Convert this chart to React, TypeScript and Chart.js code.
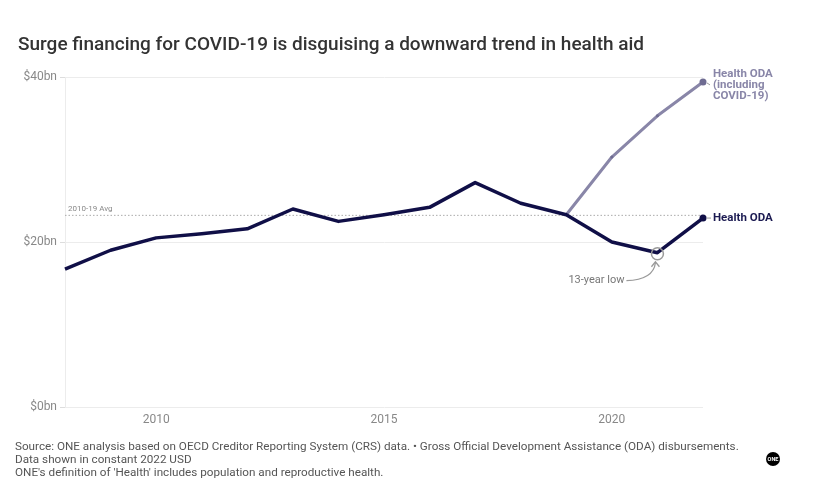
import { useEffect, useRef } from "react";
import { Chart, registerables } from "chart.js";
Chart.register(...registerables);

const YEARS = [2008, 2009, 2010, 2011, 2012, 2013, 2014, 2015, 2016, 2017, 2018, 2019, 2020, 2021, 2022];
const HEALTH_ODA = [16.7, 19.0, 20.5, 21.0, 21.6, 24.0, 22.5, 23.3, 24.2, 27.2, 24.7, 23.3, 20.0, 18.7, 22.9];
const HEALTH_ODA_COVID: (number | null)[] = [null, null, null, null, null, null, null, null, null, null, null, 23.3, 30.3, 35.3, 39.4];
const Y_TICKS = [0, 20, 40];
const X_TICKS = [2010, 2015, 2020];
const AVG_YEARS = [2010, 2019];
const LOW_YEAR = 2021;

const TITLE = "Surge financing for COVID-19 is disguising a downward trend in health aid";
const FOOTER = [
  "Source: ONE analysis based on OECD Creditor Reporting System (CRS) data. \u2022 Gross Official Development Assistance (ODA) disbursements.",
  "Data shown in constant 2022 USD",
  "ONE's definition of 'Health' includes population and reproductive health.",
];

const NAVY = "#100f47";
const LAVENDER = "#8986a8";
const FONT = "Roboto, 'Noto Sans', sans-serif";

export default function App() {
  const ref = useRef<HTMLCanvasElement | null>(null);
  useEffect(() => {
    if (!ref.current) return;
    const avgVals = YEARS.map((y, i) => (y >= AVG_YEARS[0] && y <= AVG_YEARS[1] ? HEALTH_ODA[i] : null)).filter((v) => v !== null) as number[];
    const avg = avgVals.reduce((a, b) => a + b, 0) / avgVals.length;

    const decor = {
      id: "decor",
      beforeDatasetsDraw(chart: any) {
        const { ctx, chartArea, scales } = chart;
        const y = scales.y.getPixelForValue(avg);
        ctx.save();
        ctx.strokeStyle = "#aaaaaa";
        ctx.lineWidth = 1;
        ctx.setLineDash([1.5, 2]);
        ctx.beginPath();
        ctx.moveTo(chartArea.left, y);
        ctx.lineTo(chartArea.right, y);
        ctx.stroke();
        ctx.setLineDash([]);
        ctx.fillStyle = "#888";
        ctx.font = `8px ${FONT}`;
        ctx.textBaseline = "bottom";
        ctx.textAlign = "left";
        ctx.fillText("2010-19 Avg", chartArea.left + 3, y - 2);
        ctx.restore();
      },
      afterDraw(chart: any) {
        const { ctx, scales } = chart;
        ctx.save();
        // title
        ctx.fillStyle = "#333";
        ctx.font = `500 19px ${FONT}`;
        ctx.textBaseline = "middle";
        ctx.textAlign = "left";
        ctx.fillText(TITLE, 18, 45);
        // footer
        ctx.fillStyle = "#555";
        ctx.font = `11.7px ${FONT}`;
        FOOTER.forEach((t, i) => ctx.fillText(t, 15, 447 + i * 13));
        // logo
        ctx.fillStyle = "#000";
        ctx.beginPath();
        ctx.arc(773, 459, 7, 0, Math.PI * 2);
        ctx.fill();
        ctx.fillStyle = "#fff";
        ctx.font = `bold 5.5px ${FONT}`;
        ctx.textAlign = "center";
        ctx.fillText("ONE", 773, 459.5);
        // series labels
        const last = YEARS.length - 1;
        const xe = scales.x.getPixelForValue(YEARS[last]);
        const yc = scales.y.getPixelForValue(HEALTH_ODA_COVID[last] as number);
        const yh = scales.y.getPixelForValue(HEALTH_ODA[last]);
        ctx.textAlign = "left";
        ctx.font = `bold 11.5px ${FONT}`;
        ctx.fillStyle = LAVENDER;
        ["Health ODA", "(including", "COVID-19)"].forEach((t, i) => ctx.fillText(t, xe + 10, yc - 8 + i * 11));
        ctx.fillStyle = "#1c1b52";
        ctx.fillText("Health ODA", xe + 10, yh);
        ctx.strokeStyle = "#999";
        ctx.lineWidth = 1;
        ctx.beginPath();
        ctx.moveTo(xe + 4, yh);
        ctx.lineTo(xe + 8, yh);
        ctx.moveTo(xe + 4, yc + 1);
        ctx.lineTo(xe + 7, yc + 3);
        ctx.stroke();
        // low circle
        const li = YEARS.indexOf(LOW_YEAR);
        const lx = scales.x.getPixelForValue(LOW_YEAR);
        const ly = scales.y.getPixelForValue(HEALTH_ODA[li]);
        ctx.strokeStyle = "#9a9a9a";
        ctx.lineWidth = 1.5;
        ctx.beginPath();
        ctx.arc(lx, ly + 1, 6, 0, Math.PI * 2);
        ctx.stroke();
        // label + arrow
        ctx.fillStyle = "#777";
        ctx.font = `11px ${FONT}`;
        ctx.textAlign = "right";
        ctx.fillText("13-year low", lx - 33, ly + 28);
        ctx.strokeStyle = "#9a9a9a";
        ctx.lineWidth = 1.3;
        ctx.beginPath();
        ctx.moveTo(lx - 31, ly + 28);
        ctx.quadraticCurveTo(lx - 4, ly + 27, lx - 2, ly + 10);
        ctx.stroke();
        ctx.beginPath();
        ctx.moveTo(lx - 6, ly + 14);
        ctx.lineTo(lx - 2, ly + 9);
        ctx.lineTo(lx + 2, ly + 14);
        ctx.stroke();
        ctx.restore();
      },
    };

    const chart = new Chart(ref.current, {
      type: "line",
      data: {
        datasets: [
          {
            label: "Health ODA",
            data: YEARS.map((x, i) => ({ x, y: HEALTH_ODA[i] })),
            borderColor: NAVY,
            backgroundColor: NAVY,
            borderWidth: 3.5,
            tension: 0,
            borderJoinStyle: "round",
            pointRadius: (c: any) => (c.dataIndex === YEARS.length - 1 ? 3.5 : 0),
            pointBorderWidth: 0,
            clip: false as any,
          },
          {
            label: "Health ODA (including COVID-19)",
            data: YEARS.map((x, i) => ({ x, y: HEALTH_ODA_COVID[i] })),
            borderColor: LAVENDER,
            backgroundColor: "#6f6c92",
            borderWidth: 3,
            tension: 0,
            borderJoinStyle: "round",
            pointRadius: (c: any) => (c.dataIndex === YEARS.length - 1 ? 3.5 : c.dataIndex > 11 ? 1.5 : 0),
            pointBorderWidth: 0,
            clip: false as any,
          },
        ] as any,
      },
      options: {
        animation: false,
        responsive: true,
        maintainAspectRatio: false,
        layout: { padding: { top: 77, right: 110, left: 0, bottom: 0 } },
        plugins: { legend: { display: false }, tooltip: { enabled: false }, title: { display: false } },
        scales: {
          x: {
            type: "linear",
            min: YEARS[0],
            max: YEARS[YEARS.length - 1],
            afterBuildTicks: (s: any) => {
              s.ticks = X_TICKS.map((v) => ({ value: v }));
            },
            afterFit: (s: any) => {
              s.height = 87;
            },
            grid: { display: false, drawTicks: false },
            border: { display: false },
            ticks: { color: "#888", font: { family: FONT, size: 12 }, padding: 6, callback: (v: any) => String(v), maxRotation: 0 },
          },
          y: {
            min: Y_TICKS[0],
            max: Y_TICKS[Y_TICKS.length - 1],
            afterBuildTicks: (s: any) => {
              s.ticks = Y_TICKS.map((v) => ({ value: v }));
            },
            afterFit: (s: any) => {
              s.width = 65;
            },
            grid: { color: "#ececec", tickLength: 5, tickColor: "#dddddd" },
            border: { display: true, color: "#ececec" },
            ticks: { color: "#888", font: { family: FONT, size: 12 }, padding: 3, callback: (v: any) => `$${v}bn` },
          },
        },
      },
      plugins: [decor],
    });
    return () => chart.destroy();
  }, []);

  return (
    <div style={{ position: "fixed", left: 0, top: 0, width: 813, height: 494, background: "#fff" }}>
      <canvas ref={ref} />
    </div>
  );
}
